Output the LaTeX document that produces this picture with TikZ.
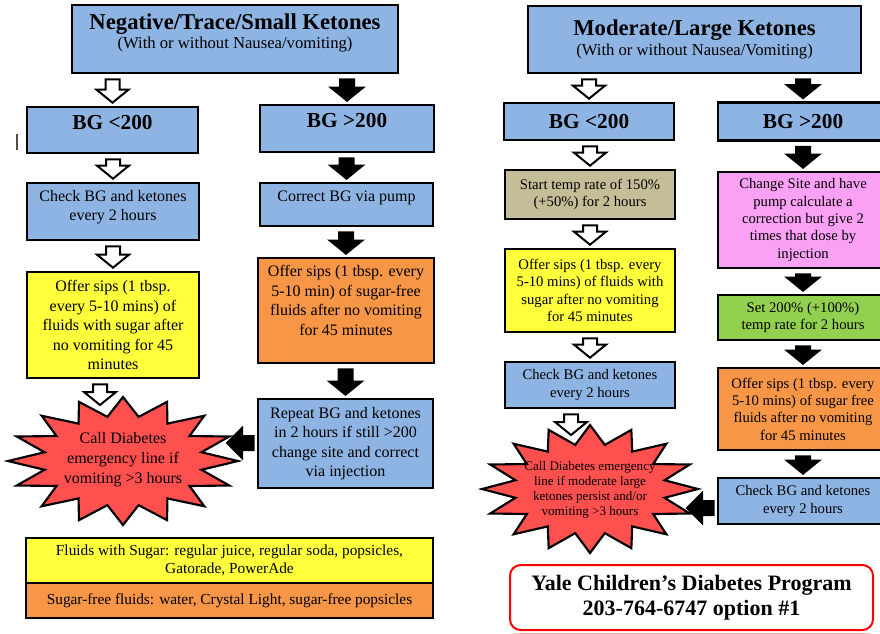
\documentclass[tikz,border=0pt]{standalone}
\usepackage{fontspec}
\setmainfont{Liberation Serif}
\usetikzlibrary{calc,backgrounds}

\definecolor{boxblue}{RGB}{142,180,227}
\definecolor{sugaryellow}{RGB}{255,255,60}
\definecolor{sipsorange}{RGB}{247,150,70}
\definecolor{tempbeige}{RGB}{196,189,151}
\definecolor{sitepink}{RGB}{250,160,245}
\definecolor{ratelime}{RGB}{146,208,80}
\definecolor{burstred}{RGB}{255,80,80}

\tikzset{
  box/.style = {draw, line width=2pt, align=center, inner sep=2pt, font=\fontsize{12}{14.6}\selectfont},
  rbox/.style = {box, font=\fontsize{11}{13}\selectfont},
  wh/.style 2 args = {minimum width=#1*0.75pt, minimum height=#2*0.75pt},
  lift/.style = {text depth=#1},
  burst/.style = {draw, fill=burstred, line width=1.6pt, line join=miter},
  blockarrow/.style = {draw, line width=1.5pt, line join=miter},
  headfont/.style = {font=\fontsize{16}{19}\selectfont\bfseries}
}

\newcommand{\downblock}[3]{%
  \draw[blockarrow, fill=#1] ($(#3|-#2)+(-7,5)$) -- ($(#3|-#2)+(7,5)$) -- ($(#3)+(7,-16)$)
    -- ($(#3)+(16,-16)$) -- ($(#3)+(0,-3)$) -- ($(#3)+(-16,-16)$) -- ($(#3)+(-7,-16)$) -- cycle;}
\newcommand{\leftblock}[2]{%
  \draw[blockarrow, fill=black] ($(#1|-#2)+(-3,-7)$) -- ($(#1|-#2)+(-3,7)$) -- ($(#2)+(15,7)$)
    -- ($(#2)+(15,15)$) -- (#2) -- ($(#2)+(15,-15)$) -- ($(#2)+(15,-7)$) -- cycle;}

\begin{document}
\begin{tikzpicture}[x = 0.75pt, y = -0.75pt]
  \useasboundingbox (0,0) rectangle (880,633);
  \clip (0,0) rectangle (880,633);
  \fill[white] (0,0) rectangle (880,633);

  \node[box, fill=boxblue, wh={326}{68}, lift=12pt] (negHead) at (235,39)
    {{\fontsize{17}{20}\selectfont\bfseries Negative/Trace/Small Ketones}\\
     {\fontsize{12.5}{15}\selectfont (With or without Nausea/vomiting)}};
  \node[box, fill=boxblue, wh={171}{46}, headfont, lift=12pt] (bgLowL) at (112.5,130) {BG <200};
  \node[box, fill=boxblue, wh={174}{47}, headfont, lift=12pt] (bgHighL) at (347,128.5) {BG >200};
  \node[box, fill=boxblue, wh={172}{57}, lift=9pt] (checkL) at (113,211.5) {Check BG and ketones\\every 2 hours};
  \node[box, fill=sugaryellow, wh={172}{106}] (sipsL) at (113,325)
    {Offer sips (1 tbsp.\\every 5-10 mins) of\\fluids with sugar after\\no vomiting for 45\\minutes};
  \node[box, fill=boxblue, wh={173}{43}, lift=13pt] (correctL) at (346.5,204.5) {Correct BG via pump};
  \node[box, fill=sipsorange, wh={176}{105}, lift=15pt] (sipsFreeL) at (346,310.5)
    {Offer sips (1 tbsp. every\\5-10 min) of sugar-free\\fluids after no vomiting\\for 45 minutes};
  \node[box, fill=boxblue, wh={175}{89}] (repeatL) at (345.5,443.5)
    {Repeat BG and ketones\\in 2 hours if still >200\\change site and correct\\via injection};
  \draw[burst] plot[samples at={0,...,31}, variable=\k]
    ({123 + (mod(\k,2)==0 ? 115 : 80)*cos(\k*11.25)}, {461 + (mod(\k,2)==0 ? 64 : 45)*sin(\k*11.25)}) -- cycle;
  \node[align=center, font=\fontsize{12}{15}\selectfont] (starL) at (123,460)
    {Call Diabetes\\emergency line if\\vomiting >3 hours};
  \node[box, fill=sugaryellow, wh={407}{45}, font=\fontsize{11.5}{14}\selectfont] (sugarList) at (229.5,560.5)
    {Fluids with Sugar: regular juice, regular soda, popsicles,\\Gatorade, PowerAde};
  \node[box, fill=sipsorange, wh={407}{35}, font=\fontsize{11.5}{14}\selectfont] (freeList) at (229.5,600.5)
    {Sugar-free fluids: water, Crystal Light, sugar-free popsicles};

  \node[box, fill=boxblue, wh={333}{67}] (modHead) at (694.5,39.5)
    {{\fontsize{17}{20}\selectfont\bfseries Moderate/Large Ketones}\\
     {\fontsize{12.5}{15}\selectfont (With or without Nausea/Vomiting)}};
  \node[box, fill=boxblue, wh={170}{37}, headfont] (bgLowR) at (589,121.5) {BG <200};
  \node[box, fill=boxblue, wh={170}{38}, headfont] (bgHighR) at (803,121.5) {BG >200};
  \node[rbox, fill=tempbeige, wh={170}{49}] (tempR) at (590,194.5) {Start temp rate of 150\%\\(+50\%) for 2 hours};
  \node[rbox, fill=sugaryellow, wh={170}{83}] (sipsR) at (590,290.5)
    {Offer sips (1 tbsp. every\\5-10 mins) of fluids with\\sugar after no vomiting\\for 45 minutes};
  \node[rbox, fill=boxblue, wh={170}{46}] (checkR1) at (590,385) {Check BG and ketones\\every 2 hours};
  \node[rbox, fill=sitepink, wh={170}{96}] (pinkR) at (803,220)
    {Change Site and have\\pump calculate a\\correction but give 2\\times that dose by\\injection};
  \node[rbox, fill=ratelime, wh={170}{45}] (greenR) at (803,317.5) {Set 200\% (+100\%)\\temp rate for 2 hours};
  \node[rbox, fill=sipsorange, wh={170}{82}] (orangeR) at (803,409)
    {Offer sips (1 tbsp. every\\5-10 mins) of sugar free\\fluids after no vomiting\\for 45 minutes};
  \node[rbox, fill=boxblue, wh={170}{46}] (checkR2) at (803,501) {Check BG and ketones\\every 2 hours};
  \draw[burst] plot[samples at={0,...,31}, variable=\k]
    ({590 + (mod(\k,2)==0 ? 108 : 76)*cos(\k*11.25)}, {489 + (mod(\k,2)==0 ? 64 : 45)*sin(\k*11.25)}) -- cycle;
  \node[align=center, font=\fontsize{9.8}{11.3}\selectfont] (starR) at (590,490)
    {Call Diabetes emergency\\line if moderate large\\ketones persist and/or\\vomiting >3 hours};
  \node[draw=red, line width=1.5pt, fill=white, rounded corners=8pt, wh={363}{65}, align=center,
    font=\fontsize{16.5}{19}\selectfont\bfseries] (yale) at (691.5,597.5)
    {Yale Children’s Diabetes Program\\203-764-6747 option \#1};
  \begin{scope}[on background layer]
    \foreach \g in {1,...,5}
      \draw[red, opacity=0.12, line width=\g*1.6pt, rounded corners=9pt] (yale.north west) rectangle (yale.south east);
  \end{scope}

  \coordinate (tipL) at (100,408);
  \coordinate (tipR) at (571,438);
  \coordinate (leftL) at (227,443);
  \coordinate (leftR) at (687,508);

  \downblock{white}{negHead.south}{bgLowL.north}
  \downblock{black}{negHead.south}{bgHighL.north}
  \downblock{white}{bgLowL.south}{checkL.north}
  \downblock{white}{checkL.south}{sipsL.north}
  \downblock{white}{sipsL.south}{tipL}
  \downblock{black}{bgHighL.south}{correctL.north}
  \downblock{black}{correctL.south}{sipsFreeL.north}
  \downblock{black}{sipsFreeL.south}{repeatL.north}
  \leftblock{repeatL.west}{leftL}

  \downblock{white}{modHead.south}{bgLowR.north}
  \downblock{black}{modHead.south}{bgHighR.north}
  \downblock{white}{bgLowR.south}{tempR.north}
  \downblock{white}{tempR.south}{sipsR.north}
  \downblock{white}{sipsR.south}{checkR1.north}
  \downblock{white}{checkR1.south}{tipR}
  \downblock{black}{bgHighR.south}{pinkR.north}
  \downblock{black}{pinkR.south}{greenR.north}
  \downblock{black}{greenR.south}{orangeR.north}
  \downblock{black}{orangeR.south}{checkR2.north}
  \leftblock{checkR2.west}{leftR}

  \draw[line width=0.8pt, black!70] (17,134) -- (17,150);
\end{tikzpicture}
\end{document}
